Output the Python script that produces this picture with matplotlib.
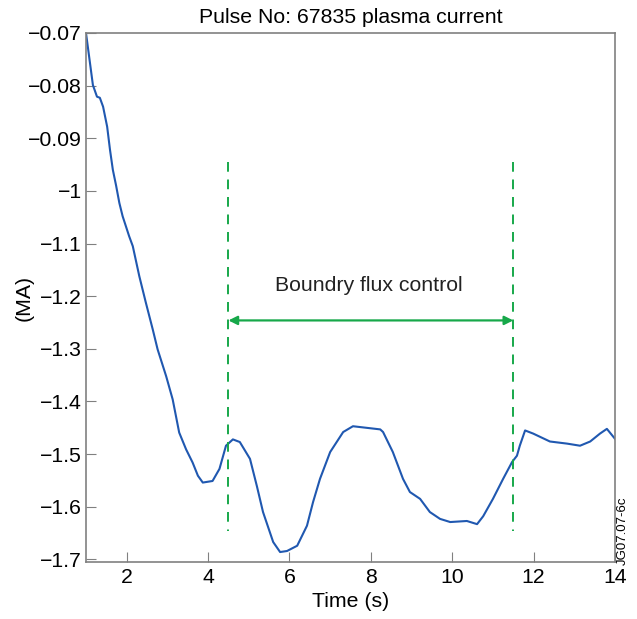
import matplotlib.pyplot as plt

plt.rcParams['font.family'] = ['Liberation Sans', 'DejaVu Sans']

# plasma current trace
time_s = [1.0, 1.17, 1.27, 1.34, 1.42, 1.52, 1.59, 1.66, 1.74, 1.82,
          1.90, 2.06, 2.15, 2.31, 2.47, 2.64, 2.76, 2.97, 3.13, 3.29,
          3.46, 3.62, 3.75, 3.87, 4.11, 4.28, 4.44, 4.61, 4.78, 5.03,
          5.20, 5.35, 5.60, 5.77, 5.94, 6.19, 6.43, 6.58, 6.75, 7.00,
          7.32, 7.56, 8.23, 8.30, 8.54, 8.79, 8.96, 9.21, 9.45, 9.70,
          9.95, 10.36, 10.61, 10.76, 11.00, 11.25, 11.47, 11.59, 11.66, 11.79,
          11.99, 12.40, 12.82, 13.14, 13.39, 13.63, 13.80, 14.0]
current_ma = [-0.700, -0.799, -0.821, -0.823, -0.840, -0.878, -0.922, -0.960, -0.990, -1.023,
              -1.048, -1.086, -1.105, -1.162, -1.212, -1.263, -1.301, -1.352, -1.396, -1.459,
              -1.491, -1.516, -1.541, -1.554, -1.551, -1.528, -1.484, -1.472, -1.477, -1.509,
              -1.561, -1.610, -1.667, -1.686, -1.684, -1.674, -1.636, -1.591, -1.547, -1.496,
              -1.458, -1.447, -1.453, -1.458, -1.496, -1.547, -1.572, -1.585, -1.610, -1.623,
              -1.629, -1.627, -1.633, -1.618, -1.585, -1.547, -1.515, -1.503, -1.484, -1.455,
              -1.461, -1.476, -1.480, -1.484, -1.476, -1.461, -1.452, -1.471]

yticks = [-0.7, -0.8, -0.9, -1.0, -1.1, -1.2, -1.3, -1.4, -1.5, -1.6, -1.7]
ytick_labels = ['\u22120.07', '\u22120.08', '\u22120.09', '\u22121', '\u22121.1', '\u22121.2',
                '\u22121.3', '\u22121.4', '\u22121.5', '\u22121.6', '\u22121.7']
xticks = [2, 4, 6, 8, 10, 12, 14]

control_start, control_end = 4.5, 11.5

fig = plt.figure(figsize=(6.37, 6.19), dpi=100)
ax = fig.add_axes([0.135, 0.092, 0.8305, 0.8547])

ax.plot(time_s, current_ma, color='#2058b0', linewidth=1.5)

green = '#17a84a'
for xv in (control_start, control_end):
    ax.plot([xv, xv], [-0.946, -1.646], color=green, linestyle=(0, (5, 4)), linewidth=1.4)
ax.annotate('', xy=(control_start, -1.246), xytext=(control_end, -1.246),
            arrowprops=dict(arrowstyle='<|-|>', color=green, lw=1.6,
                            mutation_scale=13, shrinkA=0, shrinkB=0))
ax.text(7.95, -1.18, 'Boundry flux control', ha='center', va='center', fontsize=15.3,
        color='#222222')

ax.set_xlim(1, 14)
ax.set_ylim(-1.705, -0.7)
ax.set_xticks(xticks)
ax.set_yticks(yticks)
ax.set_yticklabels(ytick_labels)
ax.tick_params(direction='in', length=7, color='#808080', labelsize=15.3, pad=3)
ax.tick_params(axis='x', pad=4.5)
for sp in ax.spines.values():
    sp.set_color('#808080')
    sp.set_linewidth(1.2)

ax.set_title('Pulse No: 67835 plasma current', fontsize=15.3, pad=7.5)
ax.set_xlabel('Time (s)', fontsize=15.3, labelpad=3.5)
ax.set_ylabel('(MA)', fontsize=15.3, labelpad=-4)
fig.text(0.978, 0.142, 'JG07.07-6c', rotation=90, fontsize=9.5, ha='center', va='center')

fig.savefig('out.png', dpi=100)
